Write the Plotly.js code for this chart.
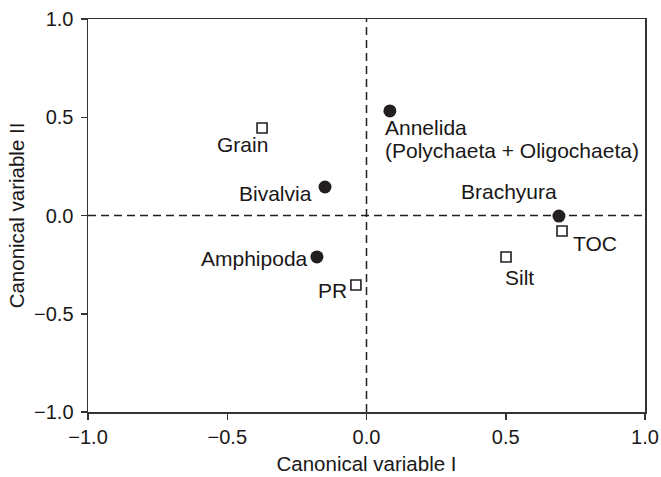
<!DOCTYPE html>
<html>
<head>
<meta charset="utf-8">
<script src="https://cdn.plot.ly/plotly-3.0.1.min.js"></script>
<style>html,body{margin:0;padding:0;background:#fff;}#chart{width:661px;height:477px;}</style>
</head>
<body>
<div id="chart"></div>
<script>
// Taxa (filled circles)
var taxaNames = ["Annelida<br>(Polychaeta + Oligochaeta)", "Bivalvia", "Brachyura", "Amphipoda"];
var taxaX = [0.084, -0.149, 0.691, -0.178];
var taxaY = [0.532, 0.145, -0.003, -0.211];

// Environmental variables (open squares)
var envNames = ["Grain", "TOC", "Silt", "PR"];
var envX = [-0.375, 0.702, 0.501, -0.038];
var envY = [0.445, -0.079, -0.211, -0.354];

var tickVals = [-1.0, -0.5, 0.0, 0.5, 1.0];

// label placement styles (pixel offsets)
var taxaLabelStyle = [
  {xanchor: "left", yanchor: "top", xshift: -6, yshift: -4, align: "left"},
  {xanchor: "right", yanchor: "middle", xshift: -12, yshift: -6, align: "right"},
  {xanchor: "right", yanchor: "middle", xshift: -1, yshift: 25, align: "right"},
  {xanchor: "right", yanchor: "middle", xshift: -8, yshift: -2, align: "right"}
];
var envLabelStyle = [
  {xanchor: "right", yanchor: "top", xshift: 7, yshift: -4, align: "right"},
  {xanchor: "left", yanchor: "middle", xshift: 10, yshift: -12, align: "left"},
  {xanchor: "left", yanchor: "top", xshift: -2, yshift: -8, align: "left"},
  {xanchor: "right", yanchor: "middle", xshift: -8, yshift: -5, align: "right"}
];
var lineGap = 23;

var fontFam = "Liberation Sans, Arial, Helvetica, sans-serif";
var annotations = [];
function addLabels(names, xs, ys, styles) {
  for (var i = 0; i < names.length; i++) {
    var s = styles[i];
    var lines = names[i].split("<br>");
    for (var k = 0; k < lines.length; k++) {
      annotations.push({
        x: xs[i], y: ys[i], xref: "x", yref: "y", text: lines[k], showarrow: false,
        xanchor: s.xanchor, yanchor: s.yanchor, xshift: s.xshift, yshift: s.yshift - k * lineGap, align: s.align,
        borderpad: 0,
        font: {family: fontFam, size: 21, color: "#1a1718"}
      });
    }
  }
}
addLabels(taxaNames, taxaX, taxaY, taxaLabelStyle);
addLabels(envNames, envX, envY, envLabelStyle);

var traces = [
  {x: envX, y: envY, type: "scatter", mode: "markers", hoverinfo: "skip",
   marker: {symbol: "square-open", size: 10, color: "#231f20", line: {width: 1.6, color: "#231f20"}}},
  {x: taxaX, y: taxaY, type: "scatter", mode: "markers", hoverinfo: "skip",
   marker: {symbol: "circle", size: 13, color: "#231f20", line: {width: 0}}}
];

var axisCommon = {
  range: [-1, 1], tickvals: tickVals, tickformat: ".1f",
  showgrid: false, zeroline: false, showline: true, mirror: true,
  linecolor: "#333", linewidth: 1.5, ticks: "outside", ticklen: 6, tickwidth: 1.5, tickcolor: "#333",
  tickfont: {family: fontFam, size: 20, color: "#1a1718"}
};

var layout = {
  width: 661, height: 477,
  margin: {l: 88, r: 16, t: 19, b: 65},
  paper_bgcolor: "#fff", plot_bgcolor: "#fff",
  showlegend: false,
  font: {family: fontFam},
  xaxis: Object.assign({}, axisCommon, {
    title: {text: "Canonical variable I", font: {family: fontFam, size: 20.5, color: "#1a1718"}, standoff: 10}
  }),
  yaxis: Object.assign({}, axisCommon, {
    ticklabelstandoff: 3,
    title: {text: "Canonical variable II", font: {family: fontFam, size: 20.5, color: "#1a1718"}, standoff: 4}
  }),
  shapes: [
    {type: "line", xref: "x", yref: "paper", x0: 0, x1: 0, y0: 0, y1: 1, layer: "below",
     line: {color: "#231f20", width: 1.5, dash: "8px,5px"}},
    {type: "line", xref: "paper", yref: "y", x0: 0, x1: 1, y0: 0, y1: 0, layer: "below",
     line: {color: "#231f20", width: 1.5, dash: "8px,5px"}}
  ],
  annotations: annotations
};

Plotly.newPlot("chart", traces, layout, {displayModeBar: false, staticPlot: true});
</script>
</body>
</html>
